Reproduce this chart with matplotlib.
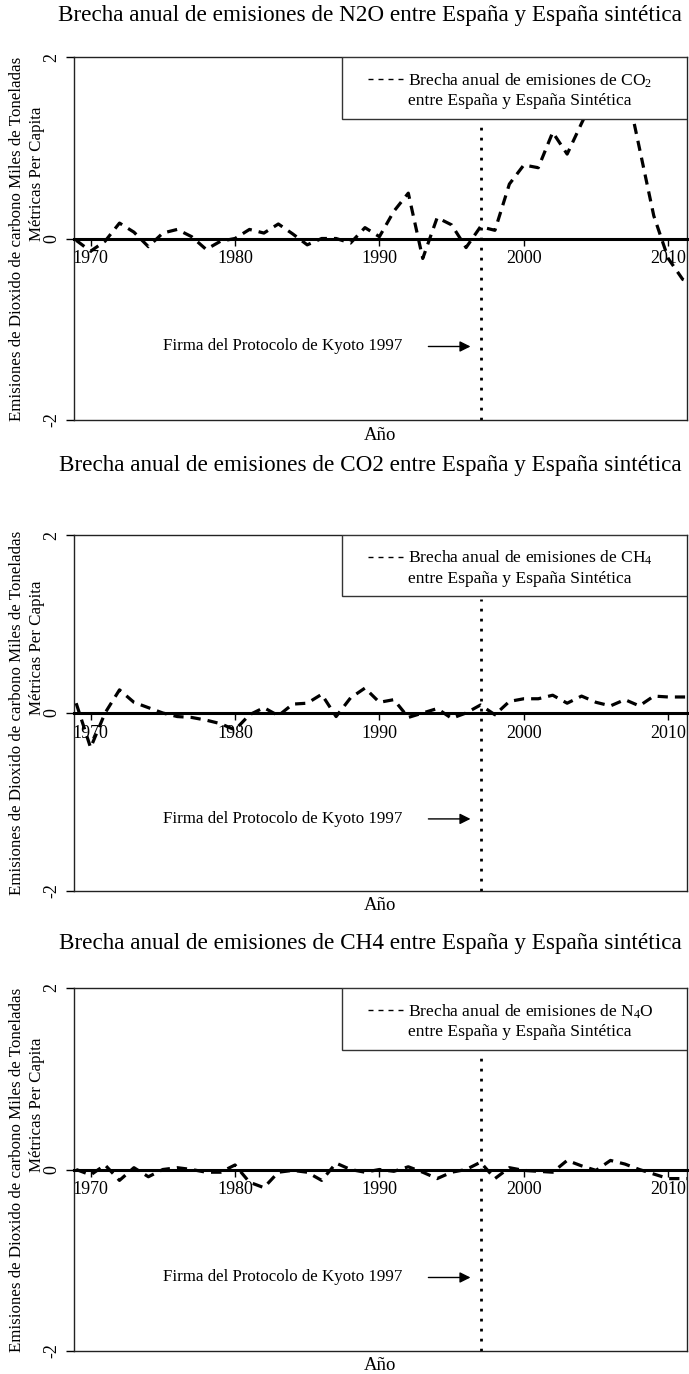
import matplotlib
matplotlib.use('Agg')
import matplotlib.pyplot as plt
from matplotlib.patches import Rectangle

plt.rcParams['font.family'] = ['Liberation Serif', 'DejaVu Serif']
plt.rcParams['mathtext.fontset'] = 'custom'
plt.rcParams['mathtext.rm'] = 'Liberation Serif'
plt.rcParams['mathtext.default'] = 'regular'

# Data (annual gap, one value per year)
years = list(range(1969, 2013))
gap_top = [-0.02, -0.14, -0.03, 0.17, 0.07, -0.09, 0.06, 0.10, 0.02, -0.12,
           -0.03, 0.00, 0.10, 0.06, 0.16, 0.05, -0.07, 0.00, 0.00, -0.05,
           0.12, 0.02, 0.30, 0.50, -0.22, 0.23, 0.15, -0.10, 0.13, 0.09,
           0.60, 0.81, 0.78, 1.17, 0.93, 1.27, 1.60, 1.80, 1.75, 1.00,
           0.25, -0.22, -0.45, -0.52]
gap_mid = [0.11, -0.39, 0.00, 0.26, 0.12, 0.06, 0.00, -0.04, -0.05, -0.08,
           -0.12, -0.19, -0.02, 0.06, -0.03, 0.10, 0.11, 0.21, -0.04, 0.17,
           0.28, 0.12, 0.15, -0.05, 0.00, 0.05, -0.06, 0.00, 0.09, -0.02,
           0.13, 0.16, 0.16, 0.20, 0.11, 0.19, 0.12, 0.08, 0.15, 0.08,
           0.19, 0.18, 0.18, 0.18]
gap_bot = [0.00, -0.06, 0.05, -0.12, 0.02, -0.08, 0.00, 0.02, 0.00, -0.03,
           -0.03, 0.05, -0.14, -0.20, -0.03, -0.01, -0.03, -0.12, 0.07, 0.00,
           -0.03, 0.00, -0.02, 0.03, -0.03, -0.10, -0.03, 0.00, 0.08, -0.10,
           0.02, -0.01, -0.02, -0.03, 0.10, 0.04, -0.01, 0.10, 0.06, 0.00,
           -0.05, -0.10, -0.10, -0.10]
series = [gap_top, gap_mid, gap_bot]

titles = ['Brecha anual de emisiones de N2O entre España y España sintética',
          'Brecha anual de emisiones de CO2 entre España y España sintética',
          'Brecha anual de emisiones de CH4 entre España y España sintética']
legend_labels = ['Brecha anual de emisiones de CO$_2$',
                 'Brecha anual de emisiones de CH$_4$',
                 'Brecha anual de emisiones de N$_4$O']
legend_line2 = 'entre España y España Sintética'
ylabel1 = 'Emisiones de Dioxido de carbono Miles de Toneladas'
ylabel2 = 'Métricas Per Capita'
xlabel = 'Año'
kyoto_year = 1997
kyoto_text = 'Firma del Protocolo de Kyoto 1997'
xticks = [1970, 1980, 1990, 2000, 2010]
yticks = [-2, 0, 2]

W, H = 689, 1374
fig = plt.figure(figsize=(W / 100, H / 100), dpi=100)

# panel frames in pixels (top, bottom) and title rows
frames = [(57, 420), (535, 891), (988, 1351)]
title_rows = [15, 466, 943]
left, right = 74, 687

for i, (top, bot) in enumerate(frames):
    ax = fig.add_axes([left / W, 1 - bot / H, (right - left) / W, (bot - top) / H])
    ax.set_xlim(1968.85, 2011.3)
    ax.set_ylim(-2, 2)

    ax.plot(years, series[i], color='black', lw=2.3, ls=(0, (3.2, 2.2)), zorder=3)
    ax.plot([kyoto_year, kyoto_year], [-2, 1.28], color='black', lw=2,
            ls=(0, (1, 2.6)), zorder=3)

    # thick axis line through zero carries the year ticks
    ax.spines['bottom'].set_position(('data', 0))
    ax.spines['bottom'].set_linewidth(2.2)
    ax.axhline(-2, color='#222222', lw=1.0, clip_on=False, zorder=2)
    for s in ['top', 'left', 'right']:
        ax.spines[s].set_linewidth(1.0)
        ax.spines[s].set_color('#222222')

    ax.set_xticks(xticks)
    ax.tick_params(axis='x', direction='out', length=5, width=1, pad=3.5, labelsize=13)
    ax.set_yticks(yticks)
    ax.set_yticklabels([str(t) for t in yticks], rotation=90, va='center')
    ax.tick_params(axis='y', direction='out', length=6, width=1, pad=4, labelsize=13)

    # legend box
    ax.add_patch(Rectangle((0.437, 0.83), 0.563, 0.17, transform=ax.transAxes,
                           facecolor='white', edgecolor='#333333', lw=1, zorder=5))
    ax.plot([0.48, 0.537], [0.939, 0.939], transform=ax.transAxes, color='black',
            lw=1, ls=(0, (3.6, 3.6)), zorder=6)
    ax.text(0.545, 0.908, legend_labels[i] + '\n' + legend_line2, transform=ax.transAxes,
            ha='left', va='center', fontsize=12.6, linespacing=1.3, zorder=6)

    # Kyoto annotation
    ax.annotate('', xy=(1996.5, -1.19), xytext=(1993.2, -1.19),
                arrowprops=dict(arrowstyle='-|>', color='black', lw=1, mutation_scale=16))
    ax.text(1991.6, -1.19, kyoto_text, ha='right', va='center', fontsize=12.2)

    ax.text(0.5, -15 / (bot - top), xlabel, transform=ax.transAxes,
            ha='center', va='center', fontsize=13.5)

    fig.text(370 / W, 1 - title_rows[i] / H, titles[i], ha='center', va='center', fontsize=16.7)
    mid = (top + bot) / 2
    fig.text(17 / W, 1 - mid / H, ylabel1, rotation=90, ha='center', va='center', fontsize=12.2)
    fig.text(37 / W, 1 - (mid - 65) / H, ylabel2, rotation=90, ha='center', va='center', fontsize=12.2)

fig.savefig('out.png', dpi=100)
